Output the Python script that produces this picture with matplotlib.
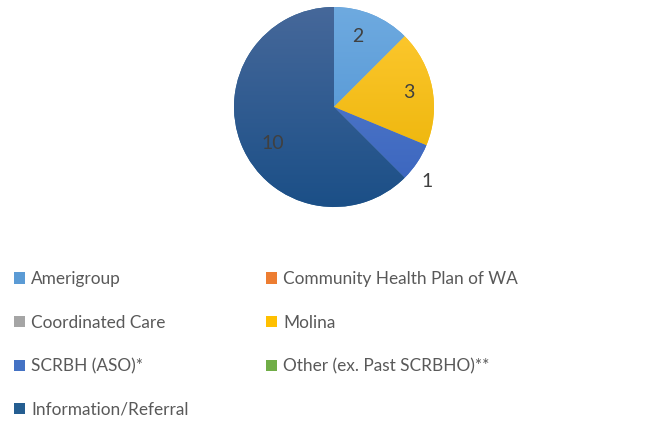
import numpy as np
import matplotlib
matplotlib.use("Agg")
import matplotlib.pyplot as plt
from matplotlib.colors import LinearSegmentedColormap
from matplotlib.patches import Patch

categories = ["Amerigroup", "Community Health Plan of WA", "Coordinated Care",
              "Molina", "SCRBH (ASO)*", "Other (ex. Past SCRBHO)**",
              "Information/Referral"]
values = [2, 0, 0, 3, 1, 0, 10]

# base colour, top-of-gradient, bottom-of-gradient
base_colors = ["#5b9bd5", "#ed7d31", "#a5a5a5", "#ffc000", "#4472c4", "#70ad47", "#255e91"]
top_colors = ["#6eaae0", "#f08c48", "#b4b4b4", "#ffca33", "#5b82cf", "#80bb58", "#46689a"]
bottom_colors = ["#4a8fd0", "#e06f22", "#969696", "#e8b000", "#3863bd", "#60a03a", "#1b4f87"]

TEXT = "#595959"
LABEL = "#404040"
FONT = "Lato"

W, H = 661, 423
fig = plt.figure(figsize=(W / 100, H / 100), dpi=100)

cx, cy, r = 334, 107, 100
ax = fig.add_axes([(cx - r) / W, (H - cy - r) / H, 2 * r / W, 2 * r / H])
wedges, _ = ax.pie(values, colors=base_colors, startangle=90, counterclock=False,
                   radius=1, wedgeprops=dict(linewidth=0))
ax.set_xlim(-1, 1)
ax.set_ylim(-1, 1)
ax.set_aspect("equal")
ax.axis("off")

# vertical gradient inside each wedge, like the Office chart
grad = np.linspace(0, 1, 256).reshape(-1, 1)
for w, c0, c1 in zip(wedges, top_colors, bottom_colors):
    cmap = LinearSegmentedColormap.from_list("g", [c0, c1])
    im = ax.imshow(grad, cmap=cmap, extent=[-1, 1, -1, 1], aspect="auto",
                   origin="upper", zorder=2)
    im.set_clip_path(w)

# data labels: distance from centre and a small angle nudge (degrees)
label_pos = {0: (0.74, 4), 3: (0.76, 0), 4: (1.19, -5), 6: (0.71, 8)}
for i, w in enumerate(wedges):
    if values[i] == 0:
        continue
    d, nudge = label_pos.get(i, (0.75, 0))
    ang = np.deg2rad((w.theta1 + w.theta2) / 2 + nudge)
    ax.text(d * np.cos(ang), d * np.sin(ang), str(values[i]), ha="center",
            va="center", fontsize=14, color=LABEL, family=FONT, zorder=5)

handles = [Patch(facecolor=c, edgecolor="none") for c in base_colors]
order = [0, 2, 4, 6, 1, 3, 5]
leg = fig.legend([handles[i] for i in order], [categories[i] for i in order],
                 ncol=2, loc="upper left", bbox_to_anchor=(14 / W, 1 - 271 / H),
                 frameon=False, handlelength=0.62, handleheight=0.62,
                 handletextpad=0.38, labelspacing=1.6, columnspacing=4.5,
                 borderpad=0, borderaxespad=0, prop=dict(family=FONT, size=12.4))
for t in leg.get_texts():
    t.set_color(TEXT)

fig.savefig("out.png", dpi=100)
